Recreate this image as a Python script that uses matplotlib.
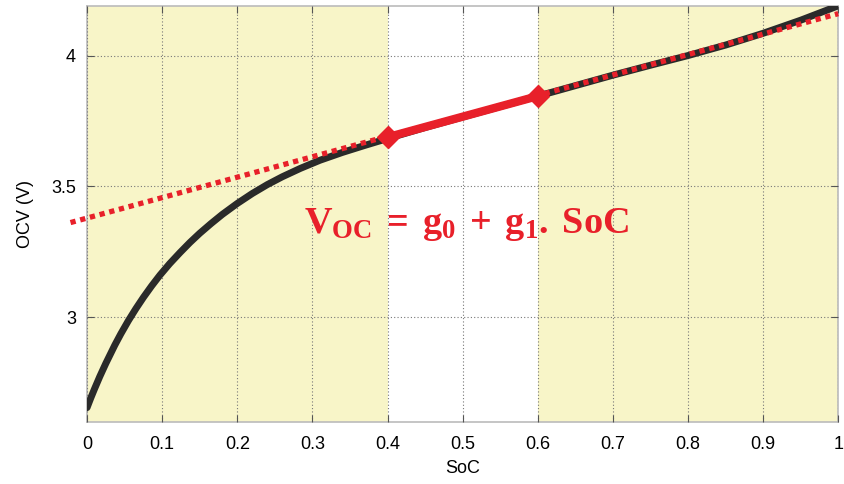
import matplotlib.pyplot as plt

plt.rcParams['font.family'] = ['Liberation Sans', 'DejaVu Sans']
plt.rcParams['mathtext.fontset'] = 'custom'
plt.rcParams['mathtext.rm'] = 'Liberation Serif'
plt.rcParams['mathtext.bf'] = 'Liberation Serif:bold'

# OCV curve
soc = [0, 0.005, 0.01, 0.017, 0.025, 0.037, 0.045, 0.055, 0.065, 0.075, 0.086,
       0.097, 0.11, 0.124, 0.137, 0.15, 0.165, 0.18, 0.2, 0.22, 0.24, 0.26, 0.284,
       0.31, 0.34, 0.37, 0.4, 0.45, 0.5, 0.55, 0.6, 0.65, 0.7, 0.75, 0.8, 0.85,
       0.9, 0.95, 1.0]
ocv = [2.655, 2.692, 2.727, 2.774, 2.824, 2.894, 2.937, 2.987, 3.033, 3.076, 3.12,
       3.161, 3.205, 3.248, 3.286, 3.321, 3.358, 3.393, 3.435, 3.473, 3.507, 3.537, 3.569,
       3.60, 3.63, 3.657, 3.683, 3.725, 3.765, 3.805, 3.845, 3.885, 3.925, 3.963, 4.00,
       4.04, 4.085, 4.135, 4.19]

# linear fit segment and its extension
seg_soc = [0.4, 0.6]
seg_ocv = [3.688, 3.845]
fit_soc = [-0.022, 1.0]
fit_ocv = [3.362, 4.16]

shade_regions = [(0, 0.4), (0.6, 1.0)]
xticks = [0, 0.1, 0.2, 0.3, 0.4, 0.5, 0.6, 0.7, 0.8, 0.9, 1]
xticklabels = ['0', '0.1', '0.2', '0.3', '0.4', '0.5', '0.6', '0.7', '0.8', '0.9', '1']
yticks = [3, 3.5, 4]
yticklabels = ['3', '3.5', '4']

red = '#e8202a'

fig = plt.figure(figsize=(8.45, 4.84), dpi=100)
ax = fig.add_axes([0.103, 0.128, 0.889, 0.86])

for a, b in shade_regions:
    ax.axvspan(a, b, color='#f8f5c8', lw=0, zorder=0)

ax.plot(soc, ocv, color='#2a2a2a', lw=5, solid_capstyle='round',
        solid_joinstyle='round', zorder=3)
ax.plot(fit_soc, fit_ocv, color=red, lw=3.8, linestyle=(0, (1.0, 0.9)),
        dash_capstyle='butt', clip_on=False, zorder=4)
ax.plot(seg_soc, seg_ocv, color=red, lw=6, marker='D', markersize=11, zorder=5)

ax.text(0.505, 3.355, r'$\mathbf{V_{OC}\,=\,g_0\,+\,g_1.\,SoC}$', color=red,
        fontsize=27.5, ha='center', va='center', zorder=6)

ax.set_xlim(0, 1)
ax.set_ylim(2.6, 4.19)
ax.set_xticks(xticks)
ax.set_xticklabels(xticklabels)
ax.set_yticks(yticks)
ax.set_yticklabels(yticklabels)
ax.tick_params(direction='in', top=True, right=True, labelsize=13, color='#555555',
               length=5)
ax.tick_params(axis='x', pad=10)
ax.tick_params(axis='y', pad=8)
ax.grid(True, color='#777777', linestyle=(0, (1, 2)), lw=0.8)
ax.set_axisbelow(False)
for s in ax.spines.values():
    s.set_color('#bbbbbb')
    s.set_linewidth(1.2)
ax.set_xlabel('SoC', fontsize=13, labelpad=5)
ax.set_ylabel('OCV (V)', fontsize=13, labelpad=12)

fig.savefig('out.png', dpi=100)
